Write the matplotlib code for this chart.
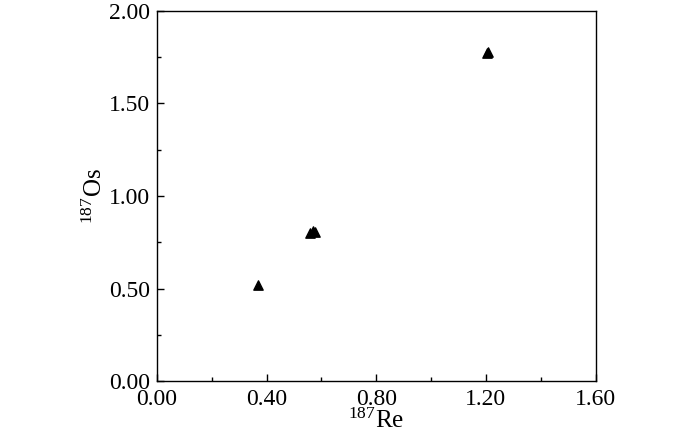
import matplotlib
matplotlib.use("Agg")
import matplotlib.pyplot as plt
from matplotlib.ticker import MultipleLocator, FormatStrFormatter

re187 = [0.368, 0.560, 0.570, 0.578, 1.204, 1.208]
os187 = [0.519, 0.800, 0.812, 0.808, 1.772, 1.778]

plt.rcParams['font.family'] = ['Liberation Serif', 'DejaVu Serif']
plt.rcParams['mathtext.fontset'] = 'custom'
plt.rcParams['mathtext.rm'] = 'Liberation Serif'
plt.rcParams['mathtext.it'] = 'Liberation Serif:italic'

fig = plt.figure(figsize=(7, 4.37), dpi=100)
ax = fig.add_axes([0.224, 0.128, 0.627, 0.847])

ax.scatter(re187, os187, marker='^', s=45, color='black', zorder=3)

ax.set_xlim(0, 1.6)
ax.set_ylim(0, 2.0)
ax.xaxis.set_major_locator(MultipleLocator(0.4))
ax.xaxis.set_minor_locator(MultipleLocator(0.2))
ax.yaxis.set_major_locator(MultipleLocator(0.5))
ax.yaxis.set_minor_locator(MultipleLocator(0.25))
ax.xaxis.set_major_formatter(FormatStrFormatter('%.2f'))
ax.yaxis.set_major_formatter(FormatStrFormatter('%.2f'))
ax.tick_params(which='both', direction='in', labelsize=17, width=1)
ax.tick_params(which='major', length=5)
ax.tick_params(which='minor', length=3)
ax.tick_params(axis='x', which='major', pad=6)
ax.tick_params(axis='y', which='major', pad=5)
for s in ax.spines.values():
    s.set_linewidth(1)

ax.set_xlabel(r'$^{187}\mathrm{Re}$', fontsize=18, labelpad=-1)
ax.set_ylabel(r'$^{187}\mathrm{Os}$', fontsize=18, labelpad=1)

fig.savefig('out.png', dpi=100)
